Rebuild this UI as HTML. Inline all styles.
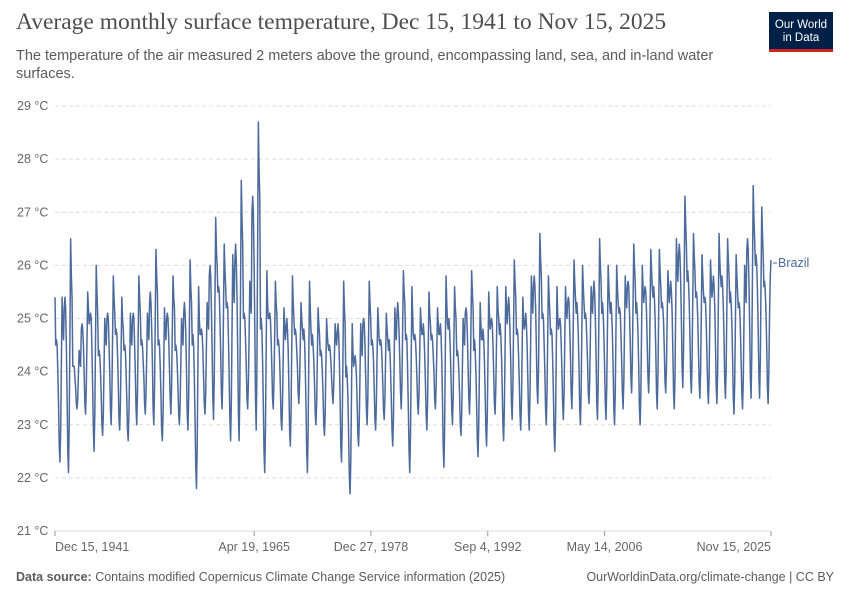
<!DOCTYPE html>
<html><head><meta charset="utf-8"><style>
body{margin:0;width:850px;height:600px;background:#fff;font-family:"Liberation Sans",sans-serif;position:relative;overflow:hidden}
.t{position:absolute;left:16px;top:9px;font-family:"Liberation Serif",serif;font-size:23.5px;color:#4e4e4e}
.s{position:absolute;left:16px;top:47px;width:730px;font-size:14.5px;line-height:18px;color:#5b5b5b}
.logo{position:absolute;left:769px;top:12px;width:64px;height:40px;background:#002147;color:#fff;font-size:11.5px;line-height:13px;text-align:center;box-sizing:border-box;padding-top:7px;border-bottom:3px solid #ce261e}
.f{position:absolute;top:570px;font-size:12.5px;color:#5b5b5b}
</style></head><body>
<div class="t">Average monthly surface temperature, Dec 15, 1941 to Nov 15, 2025</div>
<div class="s">The temperature of the air measured 2 meters above the ground, encompassing land, sea, and in-land water surfaces.</div>
<div class="logo">Our World<br>in Data</div>
<svg id="c" width="850" height="600" style="position:absolute;left:0;top:0"></svg>
<div class="f" style="left:16px"><b>Data source:</b> Contains modified Copernicus Climate Change Service information (2025)</div>
<div class="f" style="right:16px">OurWorldinData.org/climate-change | CC BY</div>
<script>
const yTicks=[21,22,23,24,25,26,27,28,29];
const xTickLabels=["Dec 15, 1941","Apr 19, 1965","Dec 27, 1978","Sep 4, 1992","May 14, 2006","Nov 15, 2025"];
const xTickDates=["1941-12-15","1965-04-19","1978-12-27","1992-09-04","2006-05-14","2025-11-15"];
const startYear=1941,startMonth=11;
const temps=[25.4,
24.5,24.6,24.5,24.0,23.4,22.6,22.3,22.9,24.2,25.4,24.9,24.6,
25.2,25.4,25.2,24.5,23.6,22.5,22.1,23.0,24.7,26.5,25.8,25.4,
24.1,24.1,24.1,23.9,23.7,23.4,23.3,23.5,24.0,24.4,24.2,24.1,
24.8,24.9,24.8,24.5,24.0,23.4,23.2,23.7,24.6,25.5,25.2,24.9,
25.0,25.1,25.0,24.4,23.7,22.9,22.5,23.2,24.6,26.0,25.5,25.1,
24.3,24.4,24.3,24.0,23.6,23.0,22.8,23.2,24.1,25.0,24.7,24.5,
25.0,25.1,25.0,24.5,24.0,23.3,23.0,23.6,24.7,25.8,25.4,25.1,
24.7,24.8,24.7,24.3,23.8,23.1,22.9,23.4,24.4,25.4,25.0,24.8,
24.4,24.5,24.4,24.0,23.5,22.9,22.7,23.2,24.1,25.1,24.7,24.5,
25.0,25.1,25.0,24.5,24.0,23.3,23.0,23.6,24.7,25.8,25.4,25.1,
24.5,24.6,24.5,24.2,23.9,23.4,23.2,23.6,24.3,25.1,24.8,24.6,
25.3,25.5,25.3,24.8,24.2,23.3,23.0,23.7,25.0,26.3,25.8,25.5,
24.5,24.6,24.5,24.1,23.6,22.9,22.7,23.2,24.2,25.2,24.8,24.6,
25.0,25.1,25.0,24.6,24.1,23.5,23.2,23.7,24.8,25.8,25.4,25.2,
24.4,24.5,24.4,24.1,23.7,23.2,23.0,23.4,24.2,25.0,24.7,24.5,
25.1,25.3,25.1,24.7,24.0,23.2,22.9,23.5,24.8,26.1,25.6,25.3,
24.5,24.7,24.5,23.9,23.1,22.2,21.8,22.6,24.1,25.6,25.0,24.7,
24.7,24.8,24.7,24.4,23.9,23.4,23.2,23.6,24.5,25.3,25.0,24.8,
25.8,26.0,25.8,25.2,24.4,23.5,23.1,23.9,25.4,26.9,26.3,26.0,
25.5,25.6,25.5,25.0,24.4,23.6,23.3,23.9,25.2,26.4,25.9,25.6,
25.2,25.3,25.2,24.6,23.9,23.1,22.7,23.4,24.8,26.2,25.7,25.3,
26.1,26.4,26.1,25.4,24.4,23.2,22.7,23.7,25.6,27.6,26.9,26.4,
25.0,25.1,25.0,24.6,24.1,23.5,23.3,23.8,24.7,25.7,25.3,25.1,
27.0,27.3,27.0,26.1,24.9,23.5,22.9,24.1,26.4,28.7,27.8,27.3,
24.8,25.0,24.8,24.2,23.4,22.5,22.1,22.9,24.4,25.9,25.3,25.0,
25.0,25.1,25.0,24.6,24.1,23.5,23.3,23.8,24.7,25.7,25.3,25.1,
24.5,24.6,24.5,24.2,23.7,23.1,22.9,23.4,24.3,25.2,24.9,24.6,
24.8,25.0,24.8,24.4,23.7,22.9,22.6,23.2,24.5,25.8,25.3,25.0,
24.7,24.8,24.7,24.4,24.1,23.6,23.4,23.8,24.5,25.3,25.0,24.8,
24.6,24.8,24.6,24.1,23.4,22.5,22.1,22.8,24.3,25.7,25.2,24.8,
24.5,24.7,24.5,24.2,23.8,23.2,23.0,23.4,24.3,25.2,24.9,24.7,
24.3,24.4,24.3,24.0,23.6,23.0,22.8,23.2,24.1,25.0,24.7,24.5,
24.4,24.5,24.4,24.2,23.9,23.6,23.4,23.7,24.3,24.9,24.7,24.5,
24.7,24.9,24.7,24.2,23.5,22.6,22.3,23.0,24.3,25.7,25.2,24.9,
23.9,24.1,23.9,23.5,22.8,22.0,21.7,22.3,23.6,24.9,24.4,24.1,
24.2,24.3,24.2,23.9,23.4,22.8,22.6,23.1,24.0,24.9,24.6,24.3,
24.9,25.0,24.9,24.5,23.9,23.3,23.0,23.5,24.6,25.7,25.3,25.0,
24.5,24.6,24.5,24.2,23.7,23.1,22.9,23.4,24.3,25.2,24.9,24.6,
24.5,24.6,24.5,24.2,23.8,23.3,23.1,23.5,24.3,25.1,24.8,24.6,
24.4,24.6,24.4,24.0,23.5,22.9,22.6,23.1,24.2,25.2,24.8,24.6,
25.1,25.3,25.1,24.7,24.2,23.6,23.3,23.8,24.9,25.9,25.5,25.3,
24.6,24.7,24.6,24.0,23.3,22.5,22.1,22.8,24.2,25.6,25.1,24.7,
24.6,24.7,24.6,24.3,23.9,23.4,23.2,23.6,24.4,25.2,24.9,24.7,
24.7,24.9,24.7,24.3,23.8,23.2,22.9,23.4,24.5,25.5,25.1,24.9,
24.6,24.7,24.6,24.3,24.0,23.5,23.3,23.7,24.4,25.2,24.9,24.7,
24.7,24.9,24.7,24.2,23.5,22.6,22.2,22.9,24.4,25.8,25.3,24.9,
24.8,25.0,24.8,24.4,23.9,23.3,23.0,23.5,24.6,25.6,25.2,25.0,
24.3,24.4,24.3,24.0,23.6,23.0,22.8,23.2,24.1,25.0,24.7,24.5,
25.1,25.2,25.1,24.7,24.1,23.5,23.2,23.7,24.8,25.9,25.5,25.2,
24.4,24.6,24.4,24.0,23.4,22.7,22.4,23.0,24.1,25.3,24.9,24.6,
24.6,24.8,24.6,24.2,23.6,22.9,22.6,23.2,24.3,25.5,25.1,24.8,
24.9,25.0,24.9,24.5,24.0,23.4,23.2,23.7,24.6,25.6,25.2,25.0,
24.7,24.9,24.7,24.3,23.7,23.0,22.7,23.3,24.4,25.6,25.2,24.9,
25.2,25.4,25.2,24.7,24.2,23.4,23.1,23.7,24.9,26.1,25.7,25.4,
24.7,24.8,24.7,24.3,23.8,23.2,22.9,23.4,24.4,25.4,25.0,24.8,
24.9,25.1,24.9,24.5,23.9,23.2,22.9,23.5,24.6,25.8,25.4,25.1,
25.6,25.8,25.6,25.2,24.5,23.7,23.4,24.0,25.3,26.6,26.1,25.8,
25.0,25.1,25.0,24.5,24.0,23.3,23.0,23.6,24.7,25.8,25.4,25.1,
24.7,24.8,24.7,24.2,23.6,22.8,22.5,23.1,24.4,25.6,25.1,24.8,
24.9,25.0,24.9,24.5,24.0,23.4,23.1,23.6,24.6,25.6,25.2,25.0,
25.3,25.4,25.3,24.8,24.3,23.6,23.3,23.9,25.0,26.1,25.7,25.4,
25.1,25.3,25.1,24.7,24.1,23.3,23.0,23.6,24.8,26.0,25.6,25.3,
25.0,25.1,25.0,24.6,24.2,23.6,23.4,23.8,24.7,25.6,25.3,25.1,
25.5,25.7,25.5,25.0,24.3,23.4,23.1,23.8,25.1,26.5,26.0,25.7,
25.1,25.3,25.1,24.7,24.1,23.4,23.1,23.7,24.8,26.0,25.6,25.3,
25.1,25.3,25.1,24.7,24.1,23.3,23.0,23.6,24.8,26.0,25.6,25.3,
25.1,25.2,25.1,24.7,24.2,23.6,23.3,23.8,24.8,25.8,25.4,25.2,
25.6,25.7,25.6,25.1,24.6,23.9,23.6,24.2,25.3,26.4,26.0,25.7,
25.1,25.3,25.1,24.7,24.1,23.3,23.0,23.6,24.8,26.0,25.6,25.3,
25.5,25.6,25.5,25.1,24.5,23.9,23.6,24.1,25.2,26.3,25.9,25.6,
25.4,25.6,25.4,25.0,24.4,23.6,23.3,23.9,25.1,26.3,25.9,25.6,
25.2,25.3,25.2,24.9,24.4,23.8,23.6,24.1,25.0,25.9,25.6,25.3,
25.5,25.7,25.5,25.1,24.4,23.6,23.3,23.9,25.2,26.5,26.0,25.7,
26.2,26.4,26.2,25.7,25.0,24.1,23.7,24.4,25.9,27.3,26.8,26.4,
25.7,25.9,25.7,25.3,24.7,23.9,23.6,24.2,25.4,26.6,26.2,25.9,
25.4,25.5,25.4,25.0,24.4,23.8,23.5,24.0,25.1,26.2,25.8,25.5,
25.3,25.4,25.3,24.9,24.3,23.7,23.4,23.9,25.0,26.1,25.7,25.4,
25.6,25.8,25.6,25.2,24.5,23.7,23.4,24.0,25.3,26.6,26.1,25.8,
25.6,25.8,25.6,25.2,24.6,23.8,23.5,24.1,25.3,26.5,26.1,25.8,
25.3,25.5,25.3,24.9,24.3,23.5,23.2,23.8,25.0,26.2,25.8,25.5,
25.2,25.3,25.2,24.8,24.2,23.6,23.3,23.8,24.9,26.0,25.6,25.3,
26.3,26.5,26.3,25.7,24.9,23.9,23.5,24.3,25.9,27.5,26.9,26.5,
26.0,26.2,26.0,25.5,24.8,23.9,23.5,24.2,25.7,27.1,26.6,26.2,
25.6,25.7,25.5,25.1,24.5,23.7,23.4,24.0,25.1,25.8,26.1];
const NS="http://www.w3.org/2000/svg",svg=document.getElementById('c');
const X0=55,X1=771,Y0=531,Y1=106;
const tStart=Date.UTC(1941,11,15),tEnd=Date.UTC(2025,10,15);
const xT=t=>X0+(t-tStart)/(tEnd-tStart)*(X1-X0);
const y=v=>Y0-(v-21)/(29-21)*(Y0-Y1);
function mk(tag,at){const e=document.createElementNS(NS,tag);for(const k in at)e.setAttribute(k,at[k]);svg.appendChild(e);return e;}
yTicks.forEach(v=>{
 const g=mk('line',{x1:X0,x2:X1,y1:y(v),y2:y(v),stroke:'#ddd','stroke-dasharray':v===21?'none':'4,3'});
 
 
 const t=mk('text',{x:17,y:y(v)+4,'font-size':'12.5','fill':'#666','font-family':'Liberation Sans'});
 t.textContent=v+' °C';
 
 
});
xTickDates.forEach((d,i)=>{
 const p=d.split('-').map(Number),xx=xT(Date.UTC(p[0],p[1]-1,p[2]));
 const tk=mk('line',{x1:xx,x2:xx,y1:Y0,y2:Y0+5,stroke:'#999'});
 
 
 const a=i===0?'start':(i===xTickDates.length-1?'end':'middle');
 const t=mk('text',{x:xx,y:Y0+20,'font-size':'12.5','fill':'#666','text-anchor':a,'font-family':'Liberation Sans'});
 t.textContent=xTickLabels[i];
 
 
});
let pts=temps.map((v,i)=>{const m=startMonth+i;return xT(Date.UTC(startYear+Math.floor(m/12),m%12,15)).toFixed(2)+','+y(v).toFixed(2);});
const line=mk('polyline',{points:pts.join(' '),fill:'none',stroke:'#4c6a9c','stroke-width':'1.5','stroke-linejoin':'round'});


const lv=temps[temps.length-1];
const lk=mk('line',{x1:X1+2,x2:X1+6,y1:y(lv)+3,y2:y(lv)+3,stroke:'#4c6a9c'});


const lt=mk('text',{x:X1+7,y:y(lv)+7,'font-size':'12.5','fill':'#4c6a9c','font-family':'Liberation Sans'});
lt.textContent='Brazil';


</script>
</body></html>
